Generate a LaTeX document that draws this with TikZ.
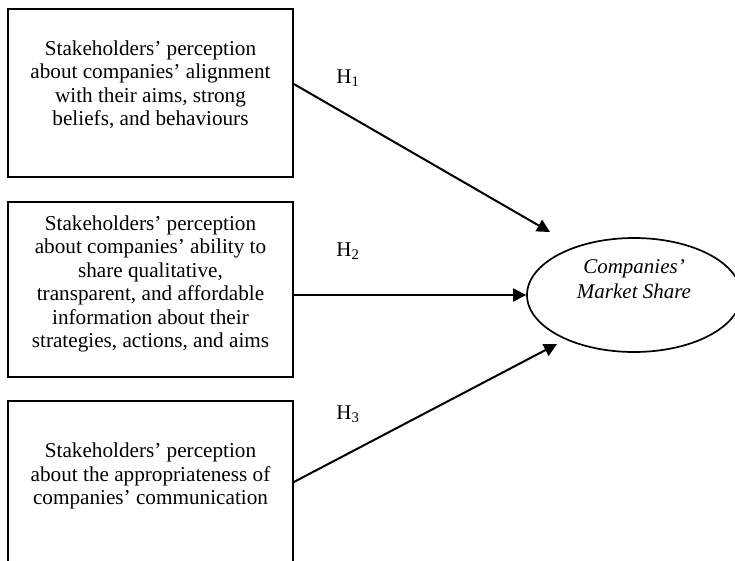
\documentclass[tikz,border=0pt]{standalone}
\usepackage{fontspec}
\setmainfont{Liberation Serif}
\usetikzlibrary{arrows.meta,calc,shapes.geometric}
\begin{document}
\begin{tikzpicture}[x=1pt,y=-1pt,
  boxnode/.style={draw,line width=1.7pt,minimum width=285pt,inner sep=0pt,rectangle},
  txt/.style={align=center,font=\fontsize{21.2}{23.5}\selectfont,inner sep=0pt},
  hyp/.style={line width=2pt,-{Triangle[length=13pt,width=13pt]}},
  hlab/.style={font=\fontsize{21}{24}\selectfont,inner sep=0pt}]
\useasboundingbox (0,0) rectangle (735,560);
\node[boxnode,minimum height=168pt] (b1) at (150.5,93) {};
\node[boxnode,minimum height=175pt] (b2) at (150.5,289.5) {};
\node[boxnode,minimum height=166pt] (b3) at (150.5,484) {};
\node[txt] (t1) at (150.5,85) {Stakeholders’ perception\\about companies’ alignment\\with their aims, strong\\beliefs, and behaviours};
\node[txt] (t2) at (150.5,284) {Stakeholders’ perception\\about companies’ ability to\\share qualitative,\\transparent, and affordable\\information about their\\strategies, actions, and aims};
\node[txt] (t3) at (150.5,476) {Stakeholders’ perception\\about the appropriateness of\\companies’ communication};
\node[draw,ellipse,line width=1.7pt,minimum width=214pt,minimum height=114pt,inner sep=0pt] (ell) at (634,295) {};
\node[txt,font=\itshape\fontsize{21}{25}\selectfont] (et) at (634,279) {Companies’\\Market Share};
\coordinate (e1) at (550,232);
\coordinate (e3) at (557,344);
\draw[hyp] ([yshift=9pt]b1.east) -- (e1);
\draw[hyp] ([yshift=-5.5pt]b2.east) -- (ell.west);
\draw[hyp] ([yshift=2pt]b3.east) -- (e3);
\node[hlab] (h1) at (348,78) {H\textsubscript{1}};
\node[hlab] (h2) at (348,251) {H\textsubscript{2}};
\node[hlab] (h3) at (348,414) {H\textsubscript{3}};
\end{tikzpicture}
\end{document}
